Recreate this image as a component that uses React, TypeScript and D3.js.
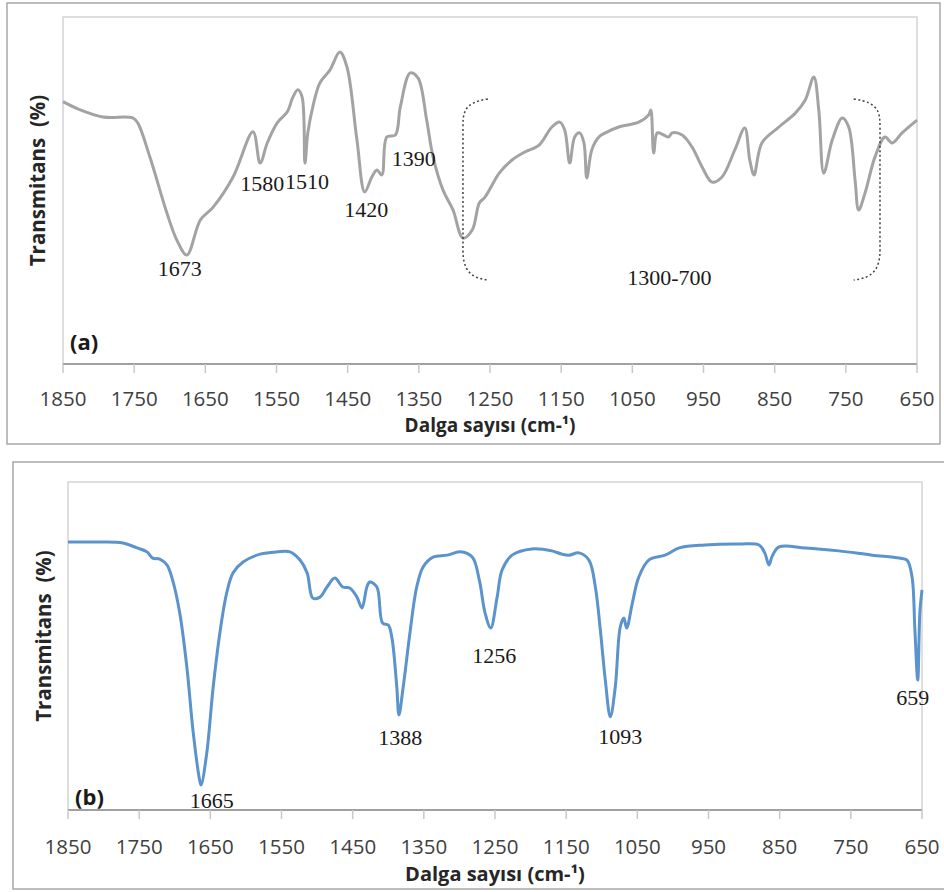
import React from 'react';
import * as d3 from 'd3';

// wavenumber (cm-1) and transmittance (arbitrary %)
const spectrumA: [number, number][] = [
	[1850, 75.6], [1831, 73.7], [1794, 71.2], [1752, 70.9], [1745, 69.5], [1728, 59.7],
	[1704, 43.5], [1690, 35.7], [1676, 31.4], [1657, 41.5], [1639, 45.2], [1611, 53.9],
	[1583, 66.9], [1573, 57.9], [1563, 63.7], [1549, 69.5], [1535, 72.6], [1527, 76.9],
	[1520, 79.0], [1514, 76.9], [1510, 57.9], [1506, 66.6], [1499, 74.1], [1489, 81.0],
	[1475, 84.7], [1461, 89.9], [1451, 85.6], [1437, 64.6], [1426, 49.6], [1416, 53.9],
	[1409, 55.9], [1402, 54.5], [1395, 65.4], [1383, 66.0], [1376, 74.1], [1362, 83.9],
	[1351, 82.4], [1339, 70.3], [1330, 59.7], [1316, 50.1], [1302, 44.4], [1288, 36.3],
	[1275, 38.6], [1265, 46.4], [1257, 48.1], [1237, 55.0], [1219, 58.8], [1201, 61.1],
	[1181, 63.1], [1163, 68.3], [1152, 69.7], [1145, 67.4], [1138, 57.9], [1131, 65.4],
	[1124, 66.6], [1118, 63.7], [1114, 53.6], [1107, 61.7], [1097, 65.4], [1088, 66.6],
	[1069, 68.3], [1041, 69.7], [1027, 71.8], [1024, 73.2], [1020, 60.8], [1015, 66.6],
	[1006, 66.0], [999, 65.4], [994, 66.6], [980, 66.0], [966, 62.5], [952, 56.8],
	[938, 52.4], [924, 53.9], [906, 61.7], [892, 68.0], [885, 58.8], [879, 54.5],
	[868, 63.7], [844, 68.3], [821, 72.3], [807, 76.1], [795, 82.7], [788, 73.2],
	[781, 55.0], [769, 64.6], [755, 70.9], [746, 68.3], [737, 53.0], [732, 44.4],
	[723, 49.3], [709, 59.7], [695, 65.4], [685, 63.7], [671, 66.6], [650, 70.3],
];

const spectrumB: [number, number][] = [
	[1850, 81.7], [1805, 81.7], [1773, 81.4], [1753, 79.9], [1739, 78.7], [1731, 76.8],
	[1721, 76.5], [1711, 74.7], [1703, 70.1], [1693, 60.1], [1683, 43.6], [1674, 23.5],
	[1665, 9.1], [1663, 7.6], [1655, 17.4], [1646, 37.5], [1636, 54.9], [1627, 66.2],
	[1618, 72.3], [1604, 75.6], [1580, 78.0], [1556, 78.7], [1538, 78.7], [1524, 76.2],
	[1514, 72.3], [1506, 64.6], [1496, 64.9], [1486, 68.0], [1475, 70.7], [1464, 68.0],
	[1454, 67.7], [1444, 64.9], [1437, 61.6], [1430, 68.0], [1426, 69.5], [1416, 68.0],
	[1408, 57.0], [1400, 56.4], [1395, 52.7], [1388, 37.5], [1385, 29.0], [1379, 37.5],
	[1369, 54.9], [1360, 68.0], [1351, 74.1], [1337, 77.1], [1317, 77.7], [1299, 78.7],
	[1282, 77.1], [1272, 70.1], [1264, 60.1], [1256, 55.5], [1247, 64.9], [1240, 73.2],
	[1226, 77.7], [1198, 79.6], [1170, 79.0], [1156, 78.0], [1146, 77.7], [1132, 78.4],
	[1118, 76.2], [1109, 68.0], [1102, 54.9], [1095, 39.6], [1088, 28.4], [1081, 37.5],
	[1074, 55.8], [1069, 58.5], [1065, 55.5], [1057, 63.1], [1048, 71.0], [1034, 76.2],
	[1011, 77.7], [991, 79.9], [955, 80.8], [907, 81.1], [879, 80.8], [871, 78.4],
	[865, 74.7], [861, 77.1], [851, 80.2], [814, 79.9], [767, 79.0], [720, 77.7],
	[682, 76.8], [671, 76.2], [664, 71.0], [660, 54.9], [656, 39.6], [653, 60.1],
	[650, 67.1],
];

const tickValues = [1850, 1750, 1650, 1550, 1450, 1350, 1250, 1150, 1050, 950, 850, 750, 650];

// peak labels: text, wavenumber, transmittance at the text baseline
const peaksA: [string, number, number][] = [
	['1673', 1686, 25.4], ['1580', 1570, 49.9], ['1510', 1507, 50.4],
	['1420', 1424, 42.4], ['1390', 1357, 57.1], ['1300-700', 998, 22.8],
];
const peaksB: [string, number, number][] = [
	['1665', 1648, 0.6], ['1388', 1383, 19.8], ['1256', 1251, 44.8],
	['1093', 1074, 20.1], ['659', 663, 32.0],
];

// dotted brackets around the 1300-700 region: [wn outer, wn inner, T top, T bottom]
const bracketsA: [number, number, number, number][] = [
	[1253, 1288, 76.4, 24.2],
	[739, 702, 76.4, 24.2],
];

const sans = '"Open Sans", sans-serif';
const serif = '"Liberation Serif", "Times New Roman", serif';

type PanelProps = {
	data: [number, number][];
	peaks: [string, number, number][];
	left: number; right: number; top: number; bottom: number;
	color: string; tag: string; tagY: number;
	tickGap: number; titleGap: number; titleSize: number; yTitleX: number;
	brackets?: [number, number, number, number][];
};

const Panel = (p: PanelProps) => {
	const x = d3.scaleLinear().domain([1850, 650]).range([p.left, p.right]);
	const y = d3.scaleLinear().domain([0, 100]).range([p.bottom, p.top]);
	const line = d3.line<[number, number]>()
		.x((d) => x(d[0]))
		.y((d) => y(d[1]))
		.curve(d3.curveCatmullRom.alpha(0.5));
	const midX = (p.left + p.right) / 2;
	const midY = (p.top + p.bottom) / 2;

	return (
		<g>
			<rect x={ p.left } y={ p.top } width={ p.right - p.left } height={ p.bottom - p.top }
				fill="none" stroke="#d4d4d4" strokeWidth={ 1.5 }/>
			<line x1={ p.left } x2={ p.right } y1={ p.bottom } y2={ p.bottom } stroke="#a0a0a0" strokeWidth={ 2 }/>
			{ tickValues.map((t) => (
				<g key={ t }>
					<line x1={ x(t) } x2={ x(t) } y1={ p.bottom } y2={ p.bottom + 9 } stroke="#c8c8c8" strokeWidth={ 1.5 }/>
					<text x={ x(t) } y={ p.bottom + p.tickGap } textAnchor="middle" fontFamily={ sans }
						fontSize={ 20.5 } fill="#404040">{ t }</text>
				</g>
			)) }
			<text x={ midX } y={ p.bottom + p.titleGap } textAnchor="middle" fontFamily={ sans }
				fontWeight="bold" fontSize={ p.titleSize } fill="#262626">Dalga sayısı (cm-¹)</text>
			<text transform={ `translate(${ p.yTitleX },${ midY - 10 }) rotate(-90)` } textAnchor="middle"
				fontFamily={ sans } fontWeight="bold" fontSize={ 20.5 } fill="#262626" dominantBaseline="central">
				Transmitans&#160;&#160;(%)
			</text>
			<path d={ line(p.data) ?? '' } fill="none" stroke={ p.color } strokeWidth={ 3 }
				strokeLinejoin="round"/>
			{ (p.brackets ?? []).map(([outer, inner, t1, t2], i) => {
				const xo = x(outer);
				const xi = x(inner);
				const ya = y(t1);
				const yb = y(t2);
				return (
					<path key={ i } fill="none" stroke="#404040" strokeWidth={ 1.5 } strokeDasharray="2,2.5"
						d={ `M${ xo },${ ya } C${ xi },${ ya + 4 } ${ xi },${ ya + 14 } ${ xi },${ ya + 30 } L${ xi },${ yb - 30 } C${ xi },${ yb - 10 } ${ xi + (xo - xi) * 0.3 },${ yb - 2 } ${ xo },${ yb }` }/>
				);
			}) }
			{ p.peaks.map(([label, wn, t]) => (
				<text key={ label } x={ x(wn) } y={ y(t) } textAnchor="middle" fontFamily={ serif }
					fontSize={ 22 } fill="#1a1a1a">{ label }</text>
			)) }
			<text x={ p.left + 7 } y={ p.tagY } fontFamily={ sans } fontWeight="bold" fontSize={ 22 }
				fill="#1a1a1a">{ p.tag }</text>
		</g>
	);
};

const App = () => (
	<svg width={ 944 } height={ 892 } style={ { position: 'absolute', left: 0, top: 0, background: '#fff' } }>
		<rect x={ 7 } y={ 3 } width={ 933 } height={ 441 } fill="#fff" stroke="#a8a8a8" strokeWidth={ 1.5 }/>
		<rect x={ 13 } y={ 462 } width={ 940 } height={ 427 } fill="#fff" stroke="#a8a8a8" strokeWidth={ 1.5 }/>
		<Panel data={ spectrumA } peaks={ peaksA } brackets={ bracketsA } left={ 63 } right={ 917 } top={ 17 }
			bottom={ 364 } color="#a3a3a3" tag="(a)" tagY={ 350 } tickGap={ 42 } titleGap={ 68 }
			titleSize={ 19 } yTitleX={ 37 }/>
		<Panel data={ spectrumB } peaks={ peaksB } left={ 68 } right={ 922 } top={ 482 } bottom={ 810 }
			color="#5b93cc" tag="(b)" tagY={ 805 } tickGap={ 44 } titleGap={ 71 } titleSize={ 20 }
			yTitleX={ 43 }/>
	</svg>
);

export default App;
